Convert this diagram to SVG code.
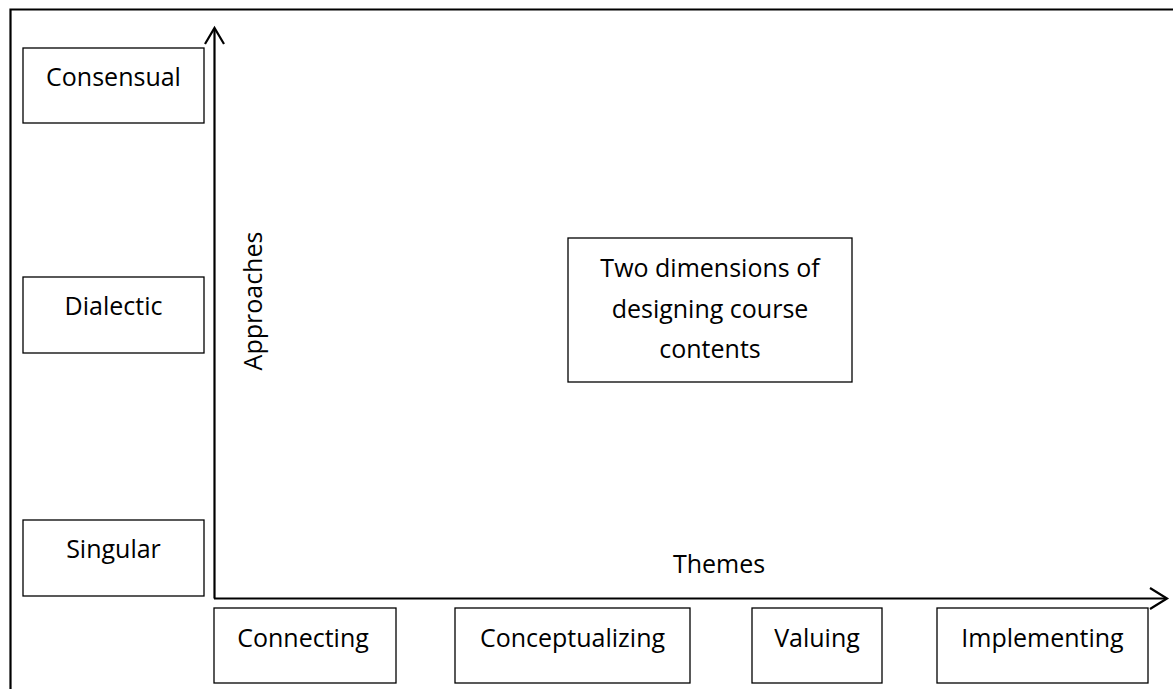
<svg xmlns="http://www.w3.org/2000/svg" width="1173" height="689" viewBox="0 0 1173 689">
<style>
.box{fill:#fff;stroke:#000;stroke-width:1.3}
.t{font-family:"Open Sans","Noto Sans",sans-serif;font-size:25px;fill:#000;text-anchor:middle}
.ax{fill:none;stroke:#000;stroke-width:2.2}
</style>
<rect width="1173" height="689" fill="#fff"/>
<g id="frame">
<path class="ax" d="M10.5,689 V9.5 H1173"/>
</g>
<g id="connectors">
<path class="ax" d="M214.5,598.5 V29"/>
<path class="ax" d="M205,44 L214.5,28 L224,44"/>
<path class="ax" d="M214,598.5 H1166"/>
<path class="ax" d="M1150,588 L1167,598.5 L1150,609"/>
</g>
<g id="consensual"><rect class="box" x="23" y="48" width="181" height="75"/><text class="t" x="113.5" y="86">Consensual</text></g>
<g id="dialectic"><rect class="box" x="23" y="277" width="181" height="76"/><text class="t" x="113.5" y="315">Dialectic</text></g>
<g id="singular"><rect class="box" x="23" y="520" width="181" height="76"/><text class="t" x="113.5" y="558">Singular</text></g>
<g id="approaches"><text class="t" transform="translate(262,301) rotate(-90)">Approaches</text></g>
<g id="themes"><text class="t" x="719" y="573">Themes</text></g>
<g id="title"><rect class="box" x="568" y="238" width="284" height="144"/><text class="t" x="710" y="277">Two dimensions of</text><text class="t" x="710" y="318">designing course</text><text class="t" x="710" y="358">contents</text></g>
<g id="connecting"><rect class="box" x="214" y="608" width="182" height="75"/><text class="t" x="303" y="647">Connecting</text></g>
<g id="conceptualizing"><rect class="box" x="455" y="608" width="235" height="75"/><text class="t" x="572.5" y="647">Conceptualizing</text></g>
<g id="valuing"><rect class="box" x="752" y="608" width="130" height="75"/><text class="t" x="817" y="647">Valuing</text></g>
<g id="implementing"><rect class="box" x="937" y="608" width="211" height="75"/><text class="t" x="1042.5" y="647">Implementing</text></g>
</svg>
